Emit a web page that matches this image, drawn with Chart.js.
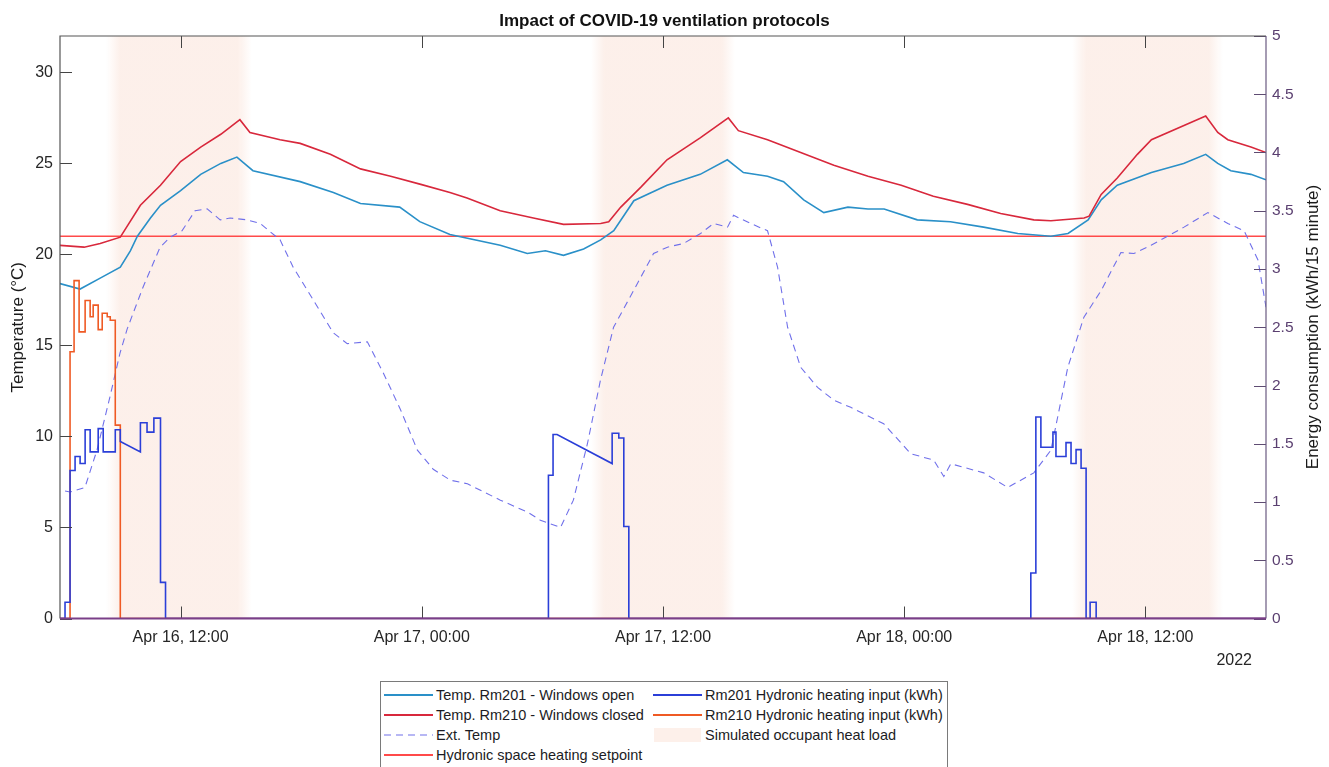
<!DOCTYPE html>
<html>
<head>
<meta charset="utf-8">
<title>Impact of COVID-19 ventilation protocols</title>
<script src="https://cdn.jsdelivr.net/npm/chart.js@4.4.1/dist/chart.umd.min.js"></script>
<style>
  html, body { margin: 0; padding: 0; background: #fff; }
  #wrap { position: relative; width: 1329px; height: 767px; overflow: hidden; font-family: 'Liberation Sans', Arial, sans-serif; }
  #chart { position: absolute; left: 0; top: 0; }
  #year { position: absolute; right: 77px; top: 651px; font-size: 16px; line-height: 18px; color: #262626; }
  #rightTitle { position: absolute; left: 1113px; top: 317px; width: 400px; height: 20px; line-height: 20px;
                text-align: center; font-size: 17px; color: #1a1a1a; transform: rotate(-90deg); white-space: nowrap; }
  #legend { position: absolute; left: 380px; top: 681px; width: 566px; height: 100px; border: 1px solid #7a7a7a;
            background: #fff; font-size: 14.5px; color: #1c1c24; }
  .item { position: absolute; height: 20px; line-height: 20px; white-space: nowrap; }
  .item svg { position: absolute; left: 0; top: 0; }
  .item span { position: absolute; left: 52px; top: 0; }
</style>
</head>
<body>
<div id="wrap">
  <canvas id="chart" width="1329" height="767"></canvas>
  <div id="rightTitle">Energy consumption (kWh/15 minute)</div>
  <div id="year">2022</div>
  <div id="legend"></div>
</div>
<script>
// hours counted from Apr 16, 00:00 (2022)
const xStartHour = 6;
const xEndHour = 66;
const xTickHours = [12, 24, 36, 48, 60];
const xTickLabels = ['Apr 16, 12:00', 'Apr 17, 00:00', 'Apr 17, 12:00', 'Apr 18, 00:00', 'Apr 18, 12:00'];
const tempTicks = [0, 5, 10, 15, 20, 25, 30];
const energyTicks = [0, 0.5, 1, 1.5, 2, 2.5, 3, 3.5, 4, 4.5, 5];
const setpointTemp = 21;

// simulated occupant heat load windows
const occupancyStart = [8.65, 32.75, 56.7];
const occupancyEnd = [15.2, 39.25, 63.5];

// [hour, °C]
const rm201Temp = [
  [6.0, 18.4], [7.0, 18.1], [8.0, 18.7], [9.0, 19.3], [9.5, 20.2], [9.85, 21.0], [10.5, 22.0], [11.0, 22.7],
  [12.0, 23.5], [13.0, 24.4], [14.0, 25.0], [14.8, 25.35], [15.6, 24.6], [17.95, 24.0], [19.6, 23.4],
  [20.95, 22.8], [22.9, 22.6], [23.9, 21.8], [25.4, 21.1], [27.9, 20.5], [29.25, 20.05], [30.15, 20.2],
  [31.05, 19.95], [32.05, 20.3], [32.9, 20.8], [33.55, 21.3], [34.55, 22.95], [36.2, 23.8], [37.85, 24.4],
  [39.2, 25.2], [40.0, 24.5], [41.2, 24.3], [42.0, 24.0], [43.0, 23.0], [44.0, 22.3], [45.2, 22.6],
  [46.2, 22.5], [47.0, 22.5], [48.65, 21.9], [50.3, 21.8], [51.95, 21.5], [53.65, 21.15], [55.3, 21.0],
  [56.15, 21.15], [57.15, 21.9], [57.8, 23.0], [58.6, 23.8], [60.3, 24.5], [61.9, 25.0], [63.0, 25.5],
  [63.6, 25.0], [64.25, 24.6], [65.25, 24.4], [66.0, 24.1]
];
const rm210Temp = [
  [6.0, 20.5], [7.2, 20.4], [8.0, 20.6], [9.0, 20.95], [10.0, 22.7], [11.0, 23.8], [12.0, 25.1], [13.0, 25.9],
  [14.0, 26.6], [14.95, 27.4], [15.45, 26.7], [16.95, 26.3], [17.95, 26.1], [19.45, 25.5], [20.95, 24.7],
  [22.45, 24.3], [23.95, 23.85], [25.4, 23.4], [26.25, 23.1], [27.9, 22.4], [29.55, 22.0], [31.05, 21.65],
  [32.9, 21.7], [33.3, 21.8], [33.9, 22.6], [34.9, 23.7], [36.2, 25.2], [37.85, 26.4], [39.25, 27.5],
  [39.75, 26.8], [41.2, 26.3], [42.85, 25.6], [44.5, 24.9], [46.2, 24.3], [47.85, 23.8], [49.45, 23.2],
  [51.15, 22.75], [52.8, 22.25], [54.45, 21.9], [55.3, 21.85], [56.95, 22.0], [57.2, 22.1], [57.8, 23.3],
  [58.6, 24.2], [59.6, 25.5], [60.3, 26.3], [63.0, 27.6], [63.6, 26.7], [64.1, 26.3], [65.25, 25.9], [66.0, 25.6]
];
const extTemp = [
  [6.25, 7.0], [6.5, 6.95], [7.24, 7.2], [7.84, 9.25], [8.49, 12.2], [8.99, 14.6], [9.34, 15.9], [10.13, 18.2],
  [10.98, 20.4], [11.48, 20.95], [12.07, 21.3], [12.72, 22.4], [13.32, 22.5], [13.97, 21.9], [14.46, 22.0],
  [15.31, 21.9], [15.96, 21.7], [16.95, 20.8], [17.6, 19.3], [18.6, 17.5], [19.59, 15.7], [20.29, 15.1],
  [21.29, 15.2], [22.08, 13.5], [22.93, 11.5], [23.78, 9.25], [24.57, 8.2], [25.42, 7.6], [26.27, 7.4],
  [27.91, 6.5], [29.25, 5.85], [29.9, 5.4], [30.9, 5.0], [31.54, 6.5], [32.24, 9.6], [32.89, 13.1],
  [33.54, 16.0], [34.53, 18.0], [35.53, 20.05], [36.22, 20.4], [37.02, 20.6], [37.87, 21.15], [38.52, 21.7],
  [39.21, 21.5], [39.51, 22.15], [40.36, 21.7], [41.2, 21.3], [41.7, 19.3], [42.2, 16.0], [42.85, 13.8],
  [43.69, 12.7], [44.49, 12.0], [45.34, 11.6], [46.98, 10.7], [48.33, 9.05], [49.47, 8.7], [49.97, 7.8],
  [50.32, 8.5], [51.96, 8.0], [53.15, 7.2], [54.45, 8.0], [55.3, 9.25], [56.14, 13.8], [56.94, 16.55],
  [57.79, 18.0], [58.78, 20.1], [59.43, 20.05], [60.28, 20.5], [61.92, 21.5], [63.11, 22.3], [64.1, 21.7],
  [64.91, 21.3], [65.6, 19.7], [66.0, 17.1]
];

// [hour, kWh per 15 min]
const rm201Heat = [
  [6, 0], [6.25, 0], [6.25, 0.14], [6.5, 0.14], [6.5, 1.27], [6.75, 1.27], [6.75, 1.39], [7, 1.39], [7, 1.33],
  [7.25, 1.33], [7.25, 1.62], [7.5, 1.62], [7.5, 1.43], [7.9, 1.43], [7.9, 1.63], [8.15, 1.63], [8.15, 1.43],
  [8.75, 1.43], [8.75, 1.62], [9, 1.62], [9, 1.52], [10, 1.43], [10, 1.68], [10.33, 1.68], [10.33, 1.6],
  [10.67, 1.6], [10.67, 1.72], [11, 1.72], [11, 0.31], [11.25, 0.31], [11.25, 0],
  [30.3, 0], [30.3, 1.23], [30.53, 1.23], [30.53, 1.58], [30.73, 1.58], [33.47, 1.33], [33.47, 1.59],
  [33.8, 1.59], [33.8, 1.55], [34.05, 1.55], [34.05, 0.79], [34.3, 0.79], [34.3, 0],
  [54.3, 0], [54.3, 0.39], [54.55, 0.39], [54.55, 1.73], [54.8, 1.73], [54.8, 1.47], [55.4, 1.47],
  [55.4, 1.6], [55.55, 1.6], [55.55, 1.39], [56.05, 1.39], [56.05, 1.51], [56.3, 1.51], [56.3, 1.33],
  [56.55, 1.33], [56.55, 1.45], [56.8, 1.45], [56.8, 1.29], [57.05, 1.29], [57.05, 0], [57.25, 0],
  [57.25, 0.14], [57.55, 0.14], [57.55, 0], [66, 0]
];
const rm210Heat = [
  [6, 0], [6.5, 0], [6.5, 2.29], [6.7, 2.29], [6.7, 2.9], [6.95, 2.9], [6.95, 2.46], [7.25, 2.46], [7.25, 2.73],
  [7.5, 2.73], [7.5, 2.59], [7.65, 2.59], [7.65, 2.69], [7.9, 2.69], [7.9, 2.48], [8.1, 2.48], [8.1, 2.62],
  [8.35, 2.62], [8.35, 2.59], [8.5, 2.59], [8.5, 2.56], [8.75, 2.56], [8.75, 1.66], [9, 1.66], [9, 0], [66, 0]
];

const colors = {
  rm201Temp: '#2a90c8',
  rm210Temp: '#d8283c',
  extTemp: '#7070ea',
  setpoint: '#ff4a4a',
  rm201Heat: '#2b3fd8',
  rm210Heat: '#ef5a24',
  band: 'rgba(240, 160, 125, 0.16)',
  bandEdge: 'rgba(240, 160, 125, 0)'
};

const toXY = pts => pts.map(([x, y]) => ({ x, y }));

const decor = {
  id: 'decor',
  beforeDatasetsDraw(chart) {
    const { ctx, chartArea: a, scales: { x } } = chart;
    ctx.save();
    ctx.beginPath();
    ctx.rect(a.left, a.top, a.width, a.height);
    ctx.clip();
    occupancyStart.forEach((s, i) => {
      const x0 = x.getPixelForValue(s);
      const x1 = x.getPixelForValue(occupancyEnd[i]);
      const f = 7;
      const w = x1 - x0 + 2 * f;
      const g = ctx.createLinearGradient(x0 - f, 0, x1 + f, 0);
      g.addColorStop(0, colors.bandEdge);
      g.addColorStop(2 * f / w, colors.band);
      g.addColorStop(1 - 2 * f / w, colors.band);
      g.addColorStop(1, colors.bandEdge);
      ctx.fillStyle = g;
      ctx.fillRect(x0 - f, a.top, w, a.height);
    });
    ctx.restore();
  },
  afterDatasetsDraw(chart) {
    const { ctx, chartArea: a, scales: { x, yT, yE } } = chart;
    const tl = 12;
    ctx.save();
    // inward ticks
    ctx.lineWidth = 1;
    ctx.strokeStyle = '#444';
    ctx.beginPath();
    xTickHours.forEach(h => {
      const px = Math.round(x.getPixelForValue(h)) + 0.5;
      ctx.moveTo(px, a.bottom); ctx.lineTo(px, a.bottom - tl);
      ctx.moveTo(px, a.top); ctx.lineTo(px, a.top + tl);
    });
    tempTicks.forEach(t => {
      const py = Math.round(yT.getPixelForValue(t)) + 0.5;
      ctx.moveTo(a.left, py); ctx.lineTo(a.left + tl, py);
    });
    ctx.stroke();
    ctx.strokeStyle = '#5e4c72';
    ctx.beginPath();
    energyTicks.forEach(e => {
      const py = Math.round(yE.getPixelForValue(e)) + 0.5;
      ctx.moveTo(a.right, py); ctx.lineTo(a.right - tl, py);
    });
    ctx.stroke();
    // frame
    ctx.lineWidth = 1.2;
    ctx.strokeStyle = '#555';
    ctx.beginPath();
    ctx.moveTo(a.left, a.bottom); ctx.lineTo(a.left, a.top); ctx.lineTo(a.right, a.top);
    ctx.stroke();
    ctx.strokeStyle = '#6a5a80';
    ctx.beginPath();
    ctx.moveTo(a.right, a.top); ctx.lineTo(a.right, a.bottom);
    ctx.stroke();
    ctx.lineWidth = 2.2;
    ctx.strokeStyle = '#7a3f88';
    ctx.beginPath();
    ctx.moveTo(a.left, a.bottom); ctx.lineTo(a.right, a.bottom);
    ctx.stroke();
    ctx.restore();
  }
};

Chart.defaults.font.family = "'Liberation Sans', Arial, sans-serif";

new Chart(document.getElementById('chart'), {
  type: 'line',
  data: {
    datasets: [
      { label: 'Rm201 Hydronic heating input (kWh)', data: toXY(rm201Heat), yAxisID: 'yE',
        borderColor: colors.rm201Heat, borderWidth: 1.6 },
      { label: 'Rm210 Hydronic heating input (kWh)', data: toXY(rm210Heat), yAxisID: 'yE',
        borderColor: colors.rm210Heat, borderWidth: 1.6 },
      { label: 'Temp. Rm210 - Windows closed', data: toXY(rm210Temp), yAxisID: 'yT',
        borderColor: colors.rm210Temp, borderWidth: 1.6 },
      { label: 'Temp. Rm201 - Windows open', data: toXY(rm201Temp), yAxisID: 'yT',
        borderColor: colors.rm201Temp, borderWidth: 1.6 },
      { label: 'Ext. Temp', data: toXY(extTemp), yAxisID: 'yT',
        borderColor: colors.extTemp, borderWidth: 1.1, borderDash: [7, 5] },
      { label: 'Hydronic space heating setpoint',
        data: [{ x: xStartHour, y: setpointTemp }, { x: xEndHour, y: setpointTemp }], yAxisID: 'yT',
        borderColor: colors.setpoint, borderWidth: 1.6 }
    ]
  },
  options: {
    responsive: false,
    animation: false,
    events: [],
    elements: { point: { radius: 0 }, line: { tension: 0, fill: false } },
    layout: { padding: 0 },
    plugins: {
      legend: { display: false },
      tooltip: { enabled: false },
      title: {
        display: true,
        text: 'Impact of COVID-19 ventilation protocols',
        color: '#111',
        font: { size: 17, weight: 'bold', lineHeight: 1 },
        padding: { top: 13, bottom: 6 }
      }
    },
    scales: {
      x: {
        type: 'linear',
        position: 'bottom',
        min: xStartHour,
        max: xEndHour,
        afterBuildTicks: s => { s.ticks = xTickHours.map(v => ({ value: v })); },
        ticks: {
          callback: v => { const i = xTickHours.indexOf(v); return i >= 0 ? xTickLabels[i] : ''; },
          font: { size: 16 }, color: '#262626', padding: 9, maxRotation: 0, autoSkip: false
        },
        grid: { display: false, drawTicks: false },
        border: { display: false },
        afterFit: s => { s.height = 148.5; }
      },
      yT: {
        type: 'linear',
        position: 'left',
        min: 0,
        max: 32,
        afterBuildTicks: s => { s.ticks = tempTicks.map(v => ({ value: v })); },
        ticks: { font: { size: 16 }, color: '#262626', padding: 7, callback: v => String(v) },
        grid: { display: false, drawTicks: false },
        border: { display: false },
        title: { display: true, text: 'Temperature (°C)', color: '#1a1a1a', font: { size: 17 }, padding: { top: 8, bottom: 0 } },
        afterFit: s => { s.width = 60; }
      },
      yE: {
        type: 'linear',
        position: 'right',
        min: 0,
        max: 5,
        afterBuildTicks: s => { s.ticks = energyTicks.map(v => ({ value: v })); },
        ticks: { font: { size: 15.5 }, color: '#5a3f70', padding: 6, callback: v => String(v) },
        grid: { display: false, drawTicks: false },
        border: { display: false },
        afterFit: s => { s.width = 63; }
      }
    }
  },
  plugins: [decor]
});

// legend (two columns, as in the original figure)
const legendItems = [
  { col: 0, row: 0, text: 'Temp. Rm201 - Windows open', color: colors.rm201Temp },
  { col: 0, row: 1, text: 'Temp. Rm210 - Windows closed', color: colors.rm210Temp },
  { col: 0, row: 2, text: 'Ext. Temp', color: colors.extTemp, dash: '7,5' },
  { col: 0, row: 3, text: 'Hydronic space heating setpoint', color: colors.setpoint },
  { col: 1, row: 0, text: 'Rm201 Hydronic heating input (kWh)', color: colors.rm201Heat },
  { col: 1, row: 1, text: 'Rm210 Hydronic heating input (kWh)', color: colors.rm210Heat },
  { col: 1, row: 2, text: 'Simulated occupant heat load', patch: true }
];
const legend = document.getElementById('legend');
legendItems.forEach(it => {
  const d = document.createElement('div');
  d.className = 'item';
  d.style.left = (it.col === 0 ? 3 : 272) + 'px';
  d.style.top = (3 + it.row * 20) + 'px';
  const sw = it.patch
    ? `<rect x="1" y="3" width="47" height="14" fill="${colors.band}"/>`
    : `<line x1="0" y1="10" x2="49" y2="10" stroke="${it.color}" stroke-width="${it.dash ? 1.2 : 1.8}"${it.dash ? ` stroke-dasharray="${it.dash}"` : ''}/>`;
  d.innerHTML = `<svg width="50" height="20">${sw}</svg><span>${it.text}</span>`;
  legend.appendChild(d);
});
</script>
</body>
</html>
